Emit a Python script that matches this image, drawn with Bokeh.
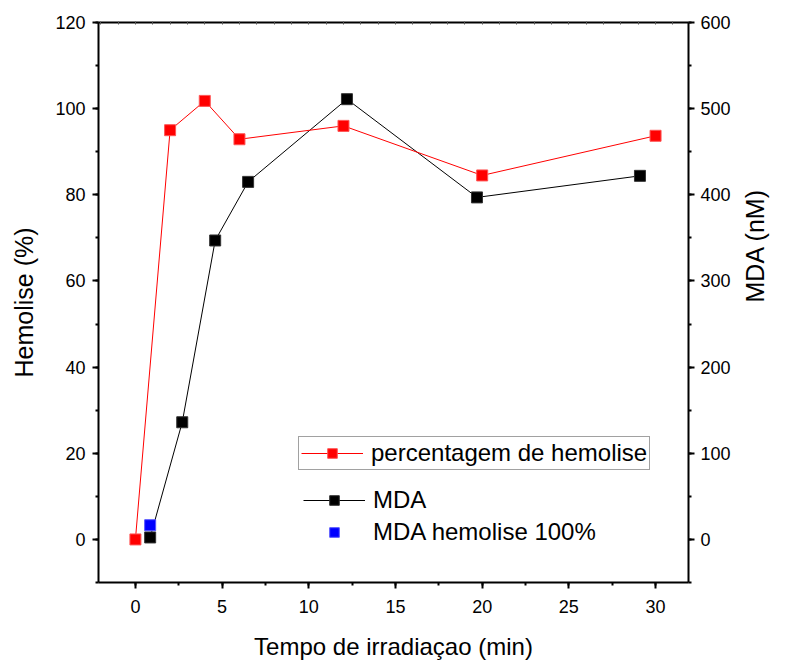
import math
from bokeh.plotting import figure
from bokeh.models import (Range1d, LinearAxis, Legend, LegendItem, SingleIntervalTicker,
                          FixedTicker)
from bokeh.embed import file_html
from bokeh.resources import INLINE

# ---- data ----
hemo_t = [0, 2, 4, 6, 12, 20, 30]
hemo_pct = [0, 95.0, 101.8, 92.9, 96.0, 84.5, 93.7]

mda_t = [0.85, 2.7, 4.6, 6.5, 12.2, 19.7, 29.1]
mda_nm = [2.3, 136, 347, 415, 511, 397, 422]

mda100_t = [0.85]
mda100_nm = [16.5]

FONT = "Liberation Sans"

p = figure(width=786, height=662, output_backend="svg", toolbar_location=None,
           x_range=Range1d(-2.13, 31.9), y_range=Range1d(-10, 120),
           min_border_left=98, min_border_right=98, min_border_top=22, min_border_bottom=79)
p.extra_y_ranges = {"mda": Range1d(-50, 600)}
p.grid.visible = False
p.outline_line_color = None
p.background_fill_color = "white"
p.border_fill_color = "white"

def style_axis(ax, title_size):
    ax.axis_line_width = 2
    ax.axis_line_color = "black"
    ax.major_tick_line_width = 2
    ax.minor_tick_line_width = 2
    ax.major_tick_line_color = "black"
    ax.minor_tick_line_color = "black"
    ax.major_tick_in = 0
    ax.major_tick_out = 6
    ax.minor_tick_in = 0
    ax.minor_tick_out = 3
    ax.major_label_text_font = FONT
    ax.major_label_text_font_size = "18px"
    ax.major_label_text_color = "black"
    ax.axis_label_text_font = FONT
    ax.axis_label_text_font_size = title_size
    ax.axis_label_text_font_style = "normal"
    ax.axis_label_text_color = "black"

# bottom axis
xa = p.xaxis[0]
style_axis(xa, "24px")
xa.ticker = SingleIntervalTicker(interval=5, num_minor_ticks=2)
xa.axis_label = "Tempo de irradiaçao (min)"
xa.major_label_standoff = 11
xa.axis_label_standoff = 17

# left axis
ya = p.yaxis[0]
style_axis(ya, "25px")
ya.ticker = SingleIntervalTicker(interval=20, num_minor_ticks=2)
ya.axis_label = "Hemolise (%)"
ya.major_label_standoff = 7
ya.axis_label_standoff = 14

# right axis (ticks and numbers)
ra = LinearAxis(y_range_name="mda")
style_axis(ra, "25px")
ra.ticker = SingleIntervalTicker(interval=100, num_minor_ticks=2)
ra.major_label_standoff = 6
p.add_layout(ra, "right")

# right axis title, carried by an otherwise invisible axis further out
rt = LinearAxis(y_range_name="mda", ticker=FixedTicker(ticks=[]))
rt.axis_line_color = None
rt.major_tick_line_color = None
rt.minor_tick_line_color = None
rt.major_tick_in = 0
rt.major_tick_out = 0
rt.minor_tick_in = 0
rt.minor_tick_out = 0
rt.major_label_standoff = 0
rt.axis_label = "MDA (nM)"
rt.axis_label_text_font = FONT
rt.axis_label_text_font_size = "25px"
rt.axis_label_text_font_style = "normal"
rt.axis_label_text_color = "black"
rt.axis_label_orientation = math.pi / 2
rt.axis_label_standoff = 21
p.add_layout(rt, "right")

# top axis (frame with small inner ticks)
ta = LinearAxis()
ta.ticker = SingleIntervalTicker(interval=1, num_minor_ticks=0)
ta.axis_line_width = 2
ta.axis_line_color = "black"
ta.major_tick_in = 2
ta.major_tick_out = 1
ta.major_tick_line_color = "#555555"
ta.major_tick_line_width = 1
ta.minor_tick_line_color = None
ta.major_label_text_font_size = "0px"
ta.major_label_text_color = None
p.add_layout(ta, "above")

# series
mda_line = p.line(mda_t, mda_nm, y_range_name="mda", line_color="black", line_width=1)
mda_pts = p.scatter(mda_t, mda_nm, y_range_name="mda", marker="square", size=11,
                    fill_color="black", line_color="#333333", line_width=1)
hemo_line = p.line(hemo_t, hemo_pct, line_color="red", line_width=1)
hemo_pts = p.scatter(hemo_t, hemo_pct, marker="square", size=11,
                     fill_color="red", line_color="#ff5555", line_width=1)
blue_pts = p.scatter(mda100_t, mda100_nm, y_range_name="mda", marker="square", size=11,
                     fill_color="blue", line_color="#5555ff", line_width=1)

def style_legend(lg):
    lg.label_text_font = FONT
    lg.label_text_font_size = "24px"
    lg.label_text_color = "black"
    lg.glyph_width = 62
    lg.glyph_height = 24
    lg.label_height = 24
    lg.label_standoff = 8
    lg.background_fill_alpha = 0
    lg.margin = 0

leg1 = Legend(items=[LegendItem(label="percentagem de hemolise", renderers=[hemo_line, hemo_pts])],
              location=(200, 112))
style_legend(leg1)
leg1.padding = 2
leg1.border_line_color = "#444444"
leg1.border_line_width = 1.5
p.add_layout(leg1, "center")

leg2 = Legend(items=[LegendItem(label="MDA", renderers=[mda_line, mda_pts]),
                     LegendItem(label="MDA hemolise 100%", renderers=[blue_pts])],
              location=(205, 36))
style_legend(leg2)
leg2.padding = 0
leg2.spacing = 4
leg2.border_line_color = None
p.add_layout(leg2, "center")

open("out.html", "w").write(file_html(p, INLINE))
